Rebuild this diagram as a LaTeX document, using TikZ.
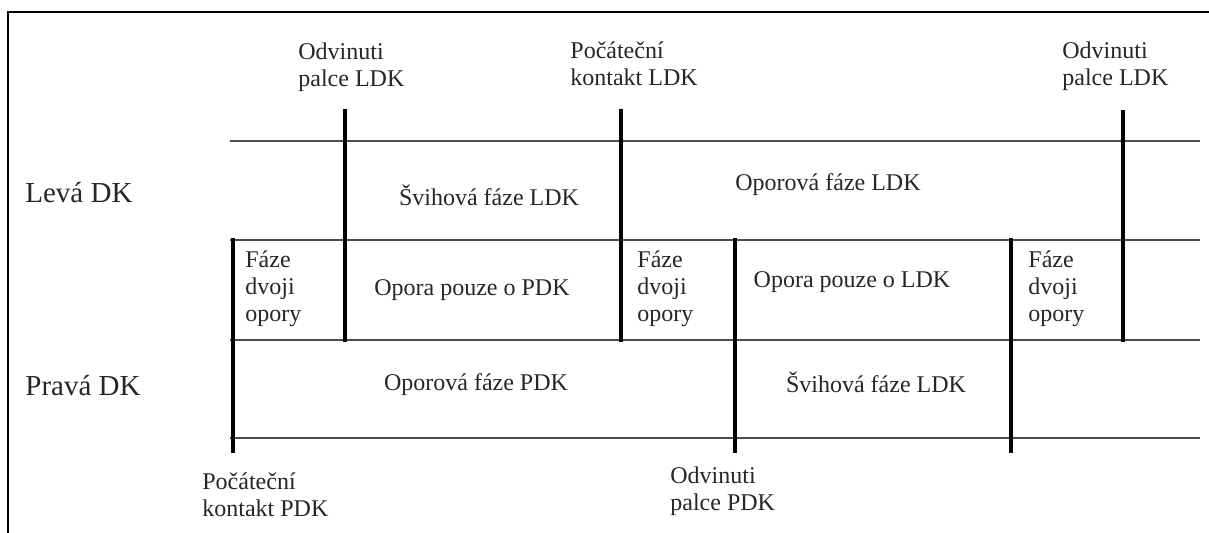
\documentclass[tikz,border=0pt]{standalone}
\usepackage{fontspec}
\setmainfont{Liberation Serif}
\usepackage{tikz}

\begin{document}
\begin{tikzpicture} [x=0.5pt, y=-0.5pt,
every node/.style = {inner sep=0pt, align=left, anchor=west,
font=\fontsize{12}{13.5}\selectfont, text=black!85},
phase/.style = {anchor=center},
side/.style = {font=\fontsize{14.5}{16}\selectfont},
rowline/.style = {draw=black!70, line width=0.8pt},
legline/.style = {draw=black, line width=2pt}]
\useasboundingbox (0,0) rectangle (1209,533);
\draw [line width=1pt] (8,533) |- (1209,12);
\foreach \y/\r in {141/1, 240/2, 340/3, 438/4} {
\coordinate (r\r w) at (230,\y);
\coordinate (r\r e) at (1200,\y);
\draw [rowline] (r\r w) -- (r\r e);
}
\foreach \x/\t/\b [count=\i] in {345/109/342, 621/109/342, 1123/110/342,
233/238/453, 735/238/453, 1011/238/453} {
\coordinate (v\i t) at (\x,\t);
\coordinate (v\i b) at (\x,\b);
\draw [legline] (v\i t) -- (v\i b);
}
\node (odvinL) at (298,67) {Odvinuti\\palce LDK};
\node (kontaktL) at (570,64) {Počáteční\\kontakt LDK};
\node (odvinL2) at (1062,66) {Odvinuti\\palce LDK};
\node (leva) [side] at (25,193) {Levá DK};
\node (prava) [side] at (25,386) {Pravá DK};
\node (svihL) [phase] at (489,195) {Švihová fáze LDK};
\node (oporL) [phase] at (828,185) {Oporová fáze LDK};
\node (dvoj1) at (245,289) {Fáze\\dvoji\\opory};
\node (pouzeP) [phase] at (472,290) {Opora pouze o PDK};
\node (dvoj2) at (637,289) {Fáze\\dvoji\\opory};
\node (pouzeL) [phase] at (852,282) {Opora pouze o LDK};
\node (dvoj3) at (1028,289) {Fáze\\dvoji\\opory};
\node (oporP) [phase] at (476,385) {Oporová fáze PDK};
\node (svihP) [phase] at (876,382) {Švihová fáze LDK};
\node (kontaktP) at (202,495) {Počáteční\\kontakt PDK};
\node (odvinP) at (670,491) {Odvinuti\\palce PDK};
\end{tikzpicture}
\end{document}
